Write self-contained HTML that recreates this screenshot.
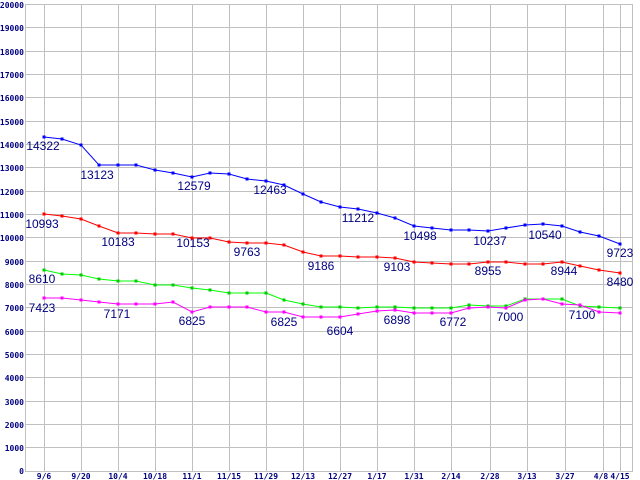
<!DOCTYPE html>
<html><head><meta charset="utf-8"><style>body{margin:0;background:#fff}svg{display:block}</style></head><body>
<svg width="640" height="480" xmlns="http://www.w3.org/2000/svg" font-family="Liberation Sans, sans-serif">
<rect width="640" height="480" fill="#fff"/>
<g stroke="#c0c0c0" stroke-width="1">
<line x1="25" y1="4.5" x2="632" y2="4.5"/><line x1="25" y1="27.5" x2="632" y2="27.5"/><line x1="25" y1="51.5" x2="632" y2="51.5"/><line x1="25" y1="74.5" x2="632" y2="74.5"/><line x1="25" y1="97.5" x2="632" y2="97.5"/><line x1="25" y1="121.5" x2="632" y2="121.5"/><line x1="25" y1="144.5" x2="632" y2="144.5"/><line x1="25" y1="167.5" x2="632" y2="167.5"/><line x1="25" y1="191.5" x2="632" y2="191.5"/><line x1="25" y1="214.5" x2="632" y2="214.5"/><line x1="25" y1="237.5" x2="632" y2="237.5"/><line x1="25" y1="261.5" x2="632" y2="261.5"/><line x1="25" y1="284.5" x2="632" y2="284.5"/><line x1="25" y1="307.5" x2="632" y2="307.5"/><line x1="25" y1="331.5" x2="632" y2="331.5"/><line x1="25" y1="354.5" x2="632" y2="354.5"/><line x1="25" y1="377.5" x2="632" y2="377.5"/><line x1="25" y1="401.5" x2="632" y2="401.5"/><line x1="25" y1="424.5" x2="632" y2="424.5"/><line x1="25" y1="447.5" x2="632" y2="447.5"/><line x1="25" y1="471.5" x2="632" y2="471.5"/>
<line x1="25.5" y1="4" x2="25.5" y2="472"/><line x1="44.5" y1="4" x2="44.5" y2="472"/><line x1="81.5" y1="4" x2="81.5" y2="472"/><line x1="118.5" y1="4" x2="118.5" y2="472"/><line x1="155.5" y1="4" x2="155.5" y2="472"/><line x1="192.5" y1="4" x2="192.5" y2="472"/><line x1="229.5" y1="4" x2="229.5" y2="472"/><line x1="266.5" y1="4" x2="266.5" y2="472"/><line x1="303.5" y1="4" x2="303.5" y2="472"/><line x1="340.5" y1="4" x2="340.5" y2="472"/><line x1="377.5" y1="4" x2="377.5" y2="472"/><line x1="414.5" y1="4" x2="414.5" y2="472"/><line x1="451.5" y1="4" x2="451.5" y2="472"/><line x1="490.5" y1="4" x2="490.5" y2="472"/><line x1="527.5" y1="4" x2="527.5" y2="472"/><line x1="565.5" y1="4" x2="565.5" y2="472"/><line x1="603.5" y1="4" x2="603.5" y2="472"/><line x1="620.5" y1="4" x2="620.5" y2="472"/><line x1="632.5" y1="4" x2="632.5" y2="472"/>
</g>
<g fill="#000080" font-size="8" font-weight="bold" font-family="DejaVu Sans Mono, monospace" text-anchor="end">
<text x="24" y="8">20000</text><text x="24" y="31">19000</text><text x="24" y="55">18000</text><text x="24" y="78">17000</text><text x="24" y="101">16000</text><text x="24" y="125">15000</text><text x="24" y="148">14000</text><text x="24" y="171">13000</text><text x="24" y="195">12000</text><text x="24" y="218">11000</text><text x="24" y="241">10000</text><text x="24" y="265">9000</text><text x="24" y="288">8000</text><text x="24" y="311">7000</text><text x="24" y="335">6000</text><text x="24" y="358">5000</text><text x="24" y="381">4000</text><text x="24" y="405">3000</text><text x="24" y="428">2000</text><text x="24" y="451">1000</text><text x="24" y="474">0</text>
</g>
<g fill="#000080" font-size="8" font-weight="bold" font-family="DejaVu Sans Mono, monospace" text-anchor="middle">
<text x="44" y="479">9/6</text><text x="81" y="479">9/20</text><text x="118" y="479">10/4</text><text x="155" y="479">10/18</text><text x="192" y="479">11/1</text><text x="229" y="479">11/15</text><text x="266" y="479">11/29</text><text x="303" y="479">12/13</text><text x="340" y="479">12/27</text><text x="377" y="479">1/17</text><text x="414" y="479">1/31</text><text x="451" y="479">2/14</text><text x="490" y="479">2/28</text><text x="527" y="479">3/13</text><text x="565" y="479">3/27</text><text x="601" y="479">4/8</text><text x="620" y="479">4/15</text>
</g>
<polyline fill="none" stroke="#0000ff" points="44,137 62,139 81,145 99,165 118,165 136,165 155,170 173,173 192,177 210,173 229,174 247,179 266,181 284,185 303,194 321,202 340,207 358,209 377,213 395,218 414,226 432,228 451,230 469,230 488,231 506,228 525,225 543,224 562,226 580,232 599,236 620,244"/>
<polyline fill="none" stroke="#ff0000" points="44,214 62,216 81,219 99,226 118,233 136,233 155,234 173,234 192,238 210,238 229,242 247,243 266,243 284,245 303,252 321,256 340,256 358,257 377,257 395,258 414,262 432,263 451,264 469,264 488,262 506,262 525,264 543,264 562,262 580,266 599,270 620,273"/>
<polyline fill="none" stroke="#00ff00" points="44,270 62,274 81,275 99,279 118,281 136,281 155,285 173,285 192,288 210,290 229,293 247,293 266,293 284,300 303,304 321,307 340,307 358,308 377,307 395,307 414,308 432,308 451,308 469,305 488,306 506,306 525,299 543,299 562,299 580,306 599,307 620,308"/>
<polyline fill="none" stroke="#ff00ff" points="44,298 62,298 81,300 99,302 118,304 136,304 155,304 173,302 192,312 210,307 229,307 247,307 266,312 284,312 303,317 321,317 340,317 358,314 377,311 395,310 414,313 432,313 451,313 469,308 488,307 506,308 525,300 543,299 562,304 580,305 599,312 620,313"/>
<g fill="#0000ff" id="pb"></g>
<g fill="#000080" font-size="12" text-anchor="middle">
<text x="43" y="150">14322</text><text x="97" y="179">13123</text><text x="194" y="190">12579</text><text x="270" y="194">12463</text><text x="358" y="222">11212</text><text x="420" y="240">10498</text><text x="490" y="245">10237</text><text x="545" y="239">10540</text><text x="620" y="257">9723</text>
<text x="42" y="228">10993</text><text x="118" y="246">10183</text><text x="193" y="247">10153</text><text x="247" y="256">9763</text><text x="321" y="270">9186</text><text x="397" y="271">9103</text><text x="488" y="275">8955</text><text x="564" y="275">8944</text><text x="620" y="286">8480</text>
<text x="42" y="283">8610</text>
<text x="42" y="312">7423</text><text x="117" y="318">7171</text><text x="192" y="325">6825</text><text x="284" y="326">6825</text><text x="340" y="335">6604</text><text x="397" y="324">6898</text><text x="453" y="326">6772</text><text x="510" y="321">7000</text><text x="582" y="319">7100</text>
</g>
<script>
var d={"#0000ff":[137,139,145,165,165,165,170,173,177,173,174,179,181,185,194,202,207,209,213,218,226,228,230,230,231,228,225,224,226,232,236,244],
"#ff0000":[214,216,219,226,233,233,234,234,238,238,242,243,243,245,252,256,256,257,257,258,262,263,264,264,262,262,264,264,262,266,270,273],
"#00cc00":[270,274,275,279,281,281,285,285,288,290,293,293,293,300,304,307,307,308,307,307,308,308,308,305,306,306,299,299,299,306,307,308],
"#ff00ff":[298,298,300,302,304,304,304,302,312,307,307,307,312,312,317,317,317,314,311,310,313,313,313,308,307,308,300,299,304,305,312,313]};
var xs=[44,62,81,99,118,136,155,173,192,210,229,247,266,284,303,321,340,358,377,395,414,432,451,469,488,506,525,543,562,580,599,620];
var s=document.querySelector('svg'),ns='http://www.w3.org/2000/svg';
for(var c in d){d[c].forEach(function(y,i){var r=document.createElementNS(ns,'rect');r.setAttribute('x',xs[i]-1.5);r.setAttribute('y',y-1.5);r.setAttribute('width',3);r.setAttribute('height',3);r.setAttribute('fill',c);s.appendChild(r);});}
</script>
</svg>
</body></html>
